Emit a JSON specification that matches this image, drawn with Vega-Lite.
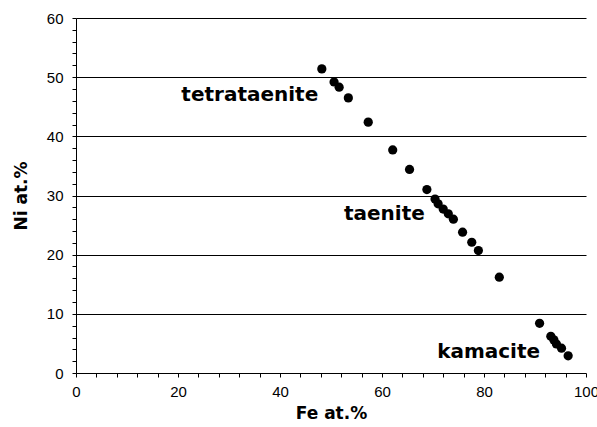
{
  "$schema": "https://vega.github.io/schema/vega-lite/v6.json",
  "width": 510,
  "height": 355,
  "autosize": {"type": "none"},
  "padding": {"left": 76, "top": 18, "right": 11, "bottom": 54},
  "background": "white",
  "config": {"view": {"stroke": null}},
  "datasets": {
    "points": [
      {"fe": 48.2, "ni": 51.4},
      {"fe": 50.6, "ni": 49.2},
      {"fe": 51.6, "ni": 48.3},
      {"fe": 53.4, "ni": 46.5},
      {"fe": 57.3, "ni": 42.4},
      {"fe": 62.1, "ni": 37.7},
      {"fe": 65.4, "ni": 34.4},
      {"fe": 68.8, "ni": 31.0},
      {"fe": 70.4, "ni": 29.4},
      {"fe": 71.0, "ni": 28.6},
      {"fe": 72.0, "ni": 27.7},
      {"fe": 73.0, "ni": 26.9},
      {"fe": 74.0, "ni": 26.0},
      {"fe": 75.8, "ni": 23.8},
      {"fe": 77.6, "ni": 22.1},
      {"fe": 78.9, "ni": 20.7},
      {"fe": 83.0, "ni": 16.2},
      {"fe": 90.9, "ni": 8.4},
      {"fe": 93.1, "ni": 6.2},
      {"fe": 93.7, "ni": 5.6},
      {"fe": 94.2, "ni": 4.9},
      {"fe": 95.2, "ni": 4.2},
      {"fe": 96.5, "ni": 2.9}
    ],
    "labels": [
      {"fe": 47.5, "ni": 47.0, "label": "tetrataenite"},
      {"fe": 68.4, "ni": 26.9, "label": "taenite"},
      {"fe": 91.0, "ni": 3.6, "label": "kamacite"}
    ]
  },
  "layer": [
    {
      "data": {"name": "points"},
      "mark": {"type": "circle", "size": 85, "color": "black", "opacity": 1},
      "encoding": {
        "x": {
          "field": "fe", "type": "quantitative",
          "scale": {"domain": [0, 100], "nice": false, "zero": false},
          "axis": {
            "title": "Fe at.%",
            "values": [0,4,8,12,16,20,24,28,32,36,40,44,48,52,56,60,64,68,72,76,80,84,88,92,96,100],
            "tickCount": 200,
            "format": "d",
            "labelExpr": "datum.value % 20 === 0 ? datum.label : ''",
            "grid": false,
            "domainColor": "black",
            "tickColor": "black",
            "tickSize": 4,
            "labelPadding": 7,
            "labelFont": "Liberation Sans",
            "labelFontSize": 15,
            "labelColor": "black",
            "labelOverlap": false,
            "labelFlush": false,
            "titleFont": "DejaVu Sans",
            "titleFontWeight": "bold",
            "titleFontSize": 17,
            "titleColor": "black",
            "titlePadding": 6
          }
        },
        "y": {
          "field": "ni", "type": "quantitative",
          "scale": {"domain": [0, 60], "nice": false},
          "axis": {
            "title": "Ni at.%",
            "values": [0,2,4,6,8,10,12,14,16,18,20,22,24,26,28,30,32,34,36,38,40,42,44,46,48,50,52,54,56,58,60],
            "tickCount": 200,
            "format": "d",
            "labelExpr": "datum.value % 10 === 0 ? datum.label : ''",
            "grid": true,
            "gridColor": "black",
            "gridWidth": 1,
            "gridOpacity": {"condition": {"test": "datum.value % 10 === 0 && datum.value > 0", "value": 1}, "value": 0},
            "domainColor": "black",
            "tickColor": "black",
            "tickSize": 4,
            "labelPadding": 9,
            "labelFont": "Liberation Sans",
            "labelFontSize": 15,
            "labelColor": "black",
            "labelOverlap": false,
            "labelFlush": false,
            "titleFont": "DejaVu Sans",
            "titleFontWeight": "bold",
            "titleFontSize": 17,
            "titleColor": "black",
            "titlePadding": 16
          }
        }
      }
    },
    {
      "data": {"name": "labels"},
      "mark": {"type": "text", "align": "right", "baseline": "middle", "font": "DejaVu Sans", "fontWeight": "bold", "fontSize": 20, "color": "black"},
      "encoding": {
        "x": {"field": "fe", "type": "quantitative"},
        "y": {"field": "ni", "type": "quantitative"},
        "text": {"field": "label"}
      }
    }
  ]
}
